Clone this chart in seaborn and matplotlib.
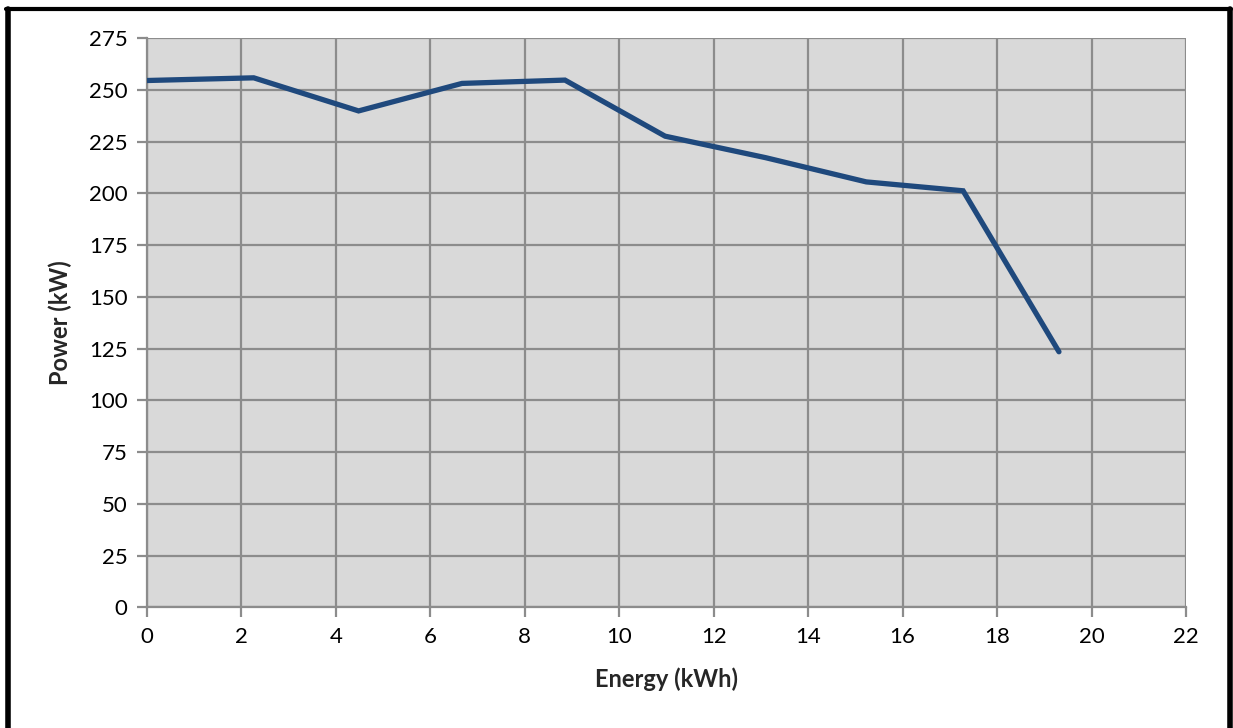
import matplotlib
matplotlib.use("Agg")
import matplotlib.pyplot as plt
import seaborn as sns
import pandas as pd
from matplotlib.lines import Line2D

energy_kwh = [0.0, 2.26, 4.48, 6.67, 8.85, 10.97, 13.1, 15.23, 17.28, 19.31]
power_kw = [254.6, 255.9, 239.9, 253.2, 254.8, 227.7, 217.3, 205.6, 201.3, 123.5]
x_ticks = list(range(0, 23, 2))
y_ticks = list(range(0, 276, 25))

df = pd.DataFrame({"Energy (kWh)": energy_kwh, "Power (kW)": power_kw})

sns.set_theme(style="white")
plt.rcParams["font.family"] = ["Lato", "DejaVu Sans"]

fig = plt.figure(figsize=(12.33, 7.28), dpi=100)
ax = fig.add_axes([147 / 1233, 1 - 607.3 / 728, (1186 - 147) / 1233, (607.3 - 38.3) / 728])
ax.set_facecolor("#D9D9D9")

sns.lineplot(data=df, x="Energy (kWh)", y="Power (kW)", ax=ax, color="#1F497D",
             linewidth=3.8, sort=False, solid_capstyle="round", solid_joinstyle="miter", zorder=3)

ax.set_xlim(0, 22)
ax.set_ylim(0, 275)
ax.set_xticks(x_ticks)
ax.set_yticks(y_ticks)
ax.set_xticklabels([str(t) for t in x_ticks])
ax.set_yticklabels([str(t) for t in y_ticks])
ax.grid(True, color="#8C8C8C", linewidth=1.6, zorder=1)
ax.set_axisbelow(True)
for side in ["top", "right"]:
    ax.spines[side].set_visible(False)
for side in ["left", "bottom"]:
    ax.spines[side].set_color("#8C8C8C")
    ax.spines[side].set_linewidth(1.6)
ax.tick_params(axis="both", which="major", direction="out", length=7, width=1.6,
               color="#8C8C8C", labelsize=16, labelcolor="black", pad=7,
               bottom=True, left=True)
ax.set_xlabel("Energy (kWh)", fontsize=17, fontweight="bold", labelpad=15)
ax.set_ylabel("Power (kW)", fontsize=17, fontweight="bold", labelpad=12)

# outer black frame (left, top, right)
fig.add_artist(Line2D([7.5 / 1233, 7.5 / 1233], [0, 1 - 9 / 728], transform=fig.transFigure,
                      color="black", linewidth=4))
fig.add_artist(Line2D([5.5 / 1233, 1230.5 / 1233], [1 - 9 / 728, 1 - 9 / 728], transform=fig.transFigure,
                      color="black", linewidth=3))
fig.add_artist(Line2D([1230 / 1233, 1230 / 1233], [0, 1 - 9 / 728], transform=fig.transFigure,
                      color="black", linewidth=4))

fig.savefig("out.png", dpi=100, facecolor="white")
